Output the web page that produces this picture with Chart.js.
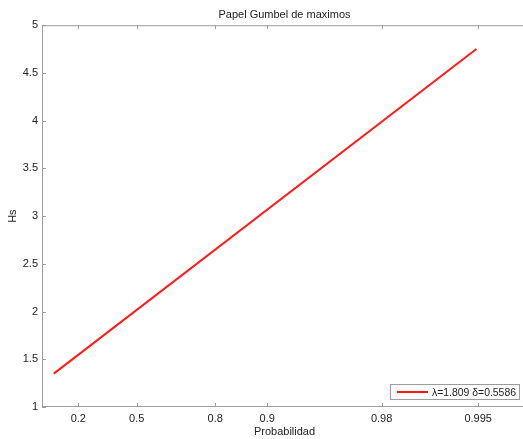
<!DOCTYPE html>
<html>
<head>
<meta charset="utf-8">
<script src="https://cdn.jsdelivr.net/npm/chart.js@4"></script>
<style>
  html, body { margin: 0; padding: 0; background: #fff; overflow: hidden; }
  canvas { display: block; }
</style>
</head>
<body>
<canvas id="chart" width="527" height="439"></canvas>
<script>
// reduced Gumbel variate -ln(-ln p) of each end of the fitted line
const lineX = [-0.83, 5.27];
const hsValues = [1.35, 4.75];
const probTicks = [0.2, 0.5, 0.8, 0.9, 0.98, 0.995];
const legendLabel = 'λ=1.809 δ=0.5586';

const FONT = 'Liberation Sans, Arial, sans-serif';
const AXIS_COLOR = '#9c9c9c';
const TEXT_COLOR = '#222';

function gumbel(p) {
    return -Math.log(-Math.log(p));
}

// box round the axes, inward ticks and the legend inside the plot
const framePlugin = {
    id: 'frame',
    afterDraw(chart) {
        const ctx = chart.ctx;
        const a = chart.chartArea;
        const xs = chart.scales.x;
        const ys = chart.scales.y;
        ctx.save();
        ctx.strokeStyle = AXIS_COLOR;
        ctx.lineWidth = 1;
        ctx.strokeRect(a.left + 0.5, a.top + 0.5, a.right - a.left - 1, a.bottom - a.top - 1);
        ctx.beginPath();
        xs.ticks.forEach(t => {
            const x = Math.round(xs.getPixelForValue(t.value)) + 0.5;
            ctx.moveTo(x, a.bottom); ctx.lineTo(x, a.bottom - 4);
            ctx.moveTo(x, a.top); ctx.lineTo(x, a.top + 4);
        });
        ys.ticks.forEach(t => {
            const y = Math.round(ys.getPixelForValue(t.value)) + 0.5;
            ctx.moveTo(a.left, y); ctx.lineTo(a.left + 4, y);
            ctx.moveTo(a.right, y); ctx.lineTo(a.right - 4, y);
        });
        ctx.stroke();

        // legend
        const w = 129, h = 15;
        const lx = a.right - 8 - w;
        const ly = a.bottom - 8 - h;
        ctx.fillStyle = '#fff';
        ctx.fillRect(lx, ly, w, h);
        ctx.strokeStyle = AXIS_COLOR;
        ctx.strokeRect(lx + 0.5, ly + 0.5, w, h);
        ctx.strokeStyle = '#ff1a1a';
        ctx.lineWidth = 2;
        ctx.beginPath();
        ctx.moveTo(lx + 7, ly + 8);
        ctx.lineTo(lx + 38, ly + 8);
        ctx.stroke();
        ctx.fillStyle = TEXT_COLOR;
        ctx.font = '11px ' + FONT;
        ctx.textBaseline = 'middle';
        ctx.fillText(legendLabel, lx + 42, ly + 8.5, 84);
        ctx.restore();
    }
};

const ctx = document.getElementById('chart').getContext('2d');
const chart = new Chart(ctx, {
    type: 'scatter',
    data: {
        datasets: [{
            label: legendLabel,
            data: lineX.map((x, i) => ({x: x, y: hsValues[i]})),
            showLine: true,
            borderColor: '#ff1a1a',
            borderWidth: 2,
            pointRadius: 0,
            fill: false
        }]
    },
    options: {
        responsive: false,
        animation: false,
        layout: {padding: 0},
        plugins: {
            legend: {display: false},
            tooltip: {enabled: false},
            title: {
                display: true,
                fullSize: false,
                text: 'Papel Gumbel de maximos',
                color: TEXT_COLOR,
                font: {family: FONT, size: 11, weight: 'normal'},
                padding: {top: 8, bottom: 4}
            }
        },
        scales: {
            x: {
                type: 'linear',
                min: -1,
                max: 6,
                grid: {display: false, drawTicks: false},
                border: {display: false},
                afterBuildTicks: scale => {
                    scale.ticks = probTicks.map(p => ({value: gumbel(p)}));
                },
                afterFit: scale => { scale.height = 32; },
                ticks: {
                    autoSkip: false,
                    maxRotation: 0,
                    padding: 5,
                    color: TEXT_COLOR,
                    font: {family: FONT, size: 11},
                    callback: (value, index) => String(probTicks[index])
                },
                title: {
                    display: true,
                    text: 'Probabilidad',
                    color: TEXT_COLOR,
                    font: {family: FONT, size: 11},
                    padding: {top: 0, bottom: 0}
                }
            },
            y: {
                min: 1,
                max: 5,
                grid: {display: false, drawTicks: false},
                border: {display: false},
                afterFit: scale => { scale.width = 42; },
                ticks: {
                    stepSize: 0.5,
                    padding: 4,
                    color: TEXT_COLOR,
                    font: {family: FONT, size: 11},
                    callback: value => String(value)
                },
                title: {
                    display: true,
                    text: 'Hs',
                    color: TEXT_COLOR,
                    font: {family: FONT, size: 11},
                    padding: {top: 6, bottom: 0}
                }
            }
        }
    },
    plugins: [framePlugin]
});
</script>
</body>
</html>
